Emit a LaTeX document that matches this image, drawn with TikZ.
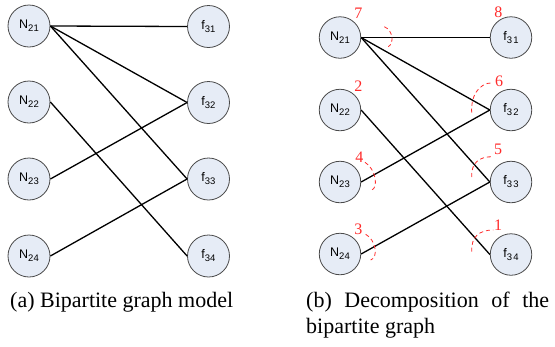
\documentclass[tikz,border=0pt]{standalone}
\usepackage{fontspec}
\setmainfont{Liberation Serif}
\newfontfamily\nodefont{Liberation Sans}
\definecolor{nodefill}{HTML}{E6ECF6}
\definecolor{nodeline}{HTML}{4A4A4A}
\definecolor{annot}{HTML}{FF2A2A}
\newcommand{\nsub}[2]{{\nodefont\fontsize{12.5}{14}\selectfont #1\raisebox{-3pt}{\fontsize{9.5}{10}\selectfont #2}}}
\begin{document}
\begin{tikzpicture}[x=1pt,y=-1pt,
  vert/.style={circle,draw=nodeline,fill=nodefill,line width=0.8pt,minimum size=42pt,inner sep=0pt},
  vertr/.style={vert,minimum size=41.5pt},
  edge/.style={line width=1.3pt,black},
  annotarc/.style={draw=annot,dash pattern=on 4pt off 3pt,line width=0.8pt},
  ordlabel/.style={text=annot,font=\fontsize{16}{16}\selectfont,inner sep=0pt},
  captext/.style={font=\fontsize{22}{26.5}\selectfont,inner sep=0pt,anchor=base west}]
\useasboundingbox (0,0) rectangle (555,346);
% ---------- (a) ----------
\node[vert] (aN21) at (29,26) {\nsub{N}{21}};
\node[vert] (aN22) at (29,102) {\nsub{N}{22}};
\node[vert] (aN23) at (29,179) {\nsub{N}{23}};
\node[vert] (aN24) at (29,256) {\nsub{N}{24}};
\node[vert] (af31) at (208.5,26.5) {\nsub{f}{31}};
\node[vert] (af32) at (208.5,102.5) {\nsub{f}{32}};
\node[vert] (af33) at (208.5,179) {\nsub{f}{33}};
\node[vert] (af34) at (208.5,256) {\nsub{f}{34}};
\draw[edge] (aN21.east) -- (af31.west);
\draw[edge] (aN21.east) -- (af32.west);
\draw[edge] (aN21.east) -- (af33.west);
\draw[edge] (aN22.east) -- (af34.west);
\draw[edge] (aN23.east) -- (af32.west);
\draw[edge] (aN24.east) -- (af33.west);
% ---------- (b) ----------
\node[vertr] (bN21) at (340,37.5) {\nsub{N}{21}};
\node[vertr] (bN22) at (340,110) {\nsub{N}{22}};
\node[vertr] (bN23) at (340,182) {\nsub{N}{23}};
\node[vertr] (bN24) at (340,254) {\nsub{N}{24}};
\node[vertr] (bf31) at (511,37.5) {\nsub{f}{3\kern1.2pt 1}};
\node[vertr] (bf32) at (511,110) {\nsub{f}{3\kern1.2pt 2}};
\node[vertr] (bf33) at (511,182) {\nsub{f}{3\kern1.2pt 3}};
\node[vertr] (bf34) at (511,254.5) {\nsub{f}{3\kern1.2pt 4}};
\draw[edge] (bN21.east) -- (bf31.west);
\draw[edge] (bN21.east) -- (bf32.west);
\draw[edge] (bN21.east) -- (bf33.west);
\draw[edge] (bN22.east) -- (bf34.west);
\draw[edge] (bN23.east) -- (bf32.west);
\draw[edge] (bN24.east) -- (bf33.west);
% dashed arcs
\draw[annotarc] (384.3,26.7) .. controls (393.5,30.5) and (394,43.5) .. (388.3,46.7);
\draw[annotarc] (365,162.3) .. controls (376,169) and (378.4,188) .. (371.7,190);
\draw[annotarc] (365.7,234.3) .. controls (376,240) and (378.5,257.5) .. (370.7,260);
\draw[annotarc] (471.7,112.7) .. controls (470.5,97) and (478,83) .. (492.7,82.7);
\draw[annotarc] (471.7,177) .. controls (471,163) and (479,156.5) .. (492.7,156.7);
\draw[annotarc] (471.7,251.7) .. controls (471,237) and (479,230) .. (493.3,230);
% order labels
\node[ordlabel] (o7) at (358.3,13.3) {7};
\node[ordlabel] (o2) at (358.3,86) {2};
\node[ordlabel] (o4) at (359.3,157.3) {4};
\node[ordlabel] (o3) at (358.3,229.3) {3};
\node[ordlabel] (o8) at (498.3,12.7) {8};
\node[ordlabel] (o6) at (499,81.7) {6};
\node[ordlabel] (o5) at (498,149) {5};
\node[ordlabel] (o1) at (498,225) {1};
% captions
\node[captext] (capa) at (10,307) {(a) Bipartite graph model};
\node[captext] (capb1) at (306,307) {\makebox[243pt][s]{(b) Decomposition of the}};
\node[captext] (capb2) at (306,333) {bipartite graph};
\end{tikzpicture}
\end{document}
